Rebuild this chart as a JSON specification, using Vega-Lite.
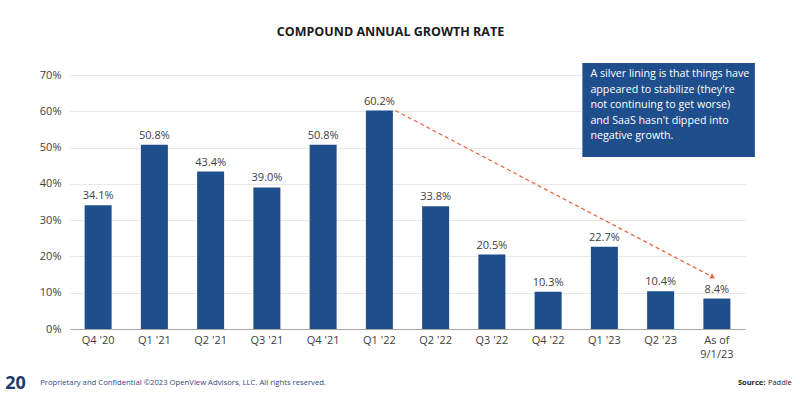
{
  "$schema": "https://vega.github.io/schema/vega-lite/v6.json",
  "width": 675,
  "height": 254,
  "autosize": "none",
  "padding": {"left": 70, "top": 75, "right": 55, "bottom": 65},
  "background": "white",
  "title": {"text": "COMPOUND ANNUAL GROWTH RATE", "font": "Open Sans", "fontSize": 12.5, "fontWeight": "bold", "color": "#1a1a1a", "anchor": "middle", "dx": -17, "offset": 25},
  "config": {"view": {"stroke": null}, "font": "Open Sans",
    "axisX": {"title": null, "labelAngle": 0, "ticks": false, "grid": false, "domainColor": "#a6a6a6", "domainWidth": 1.2, "labelPadding": 5, "labelFontSize": 11, "labelColor": "#404040", "labelFont": "Open Sans", "labelLineHeight": 14, "labelExpr": "datum.value == 'As of 9/1/23' ? ['As of', '9/1/23'] : datum.value"},
    "axisY": {"title": null, "domain": false, "ticks": false, "grid": true, "gridColor": "#e8e8e8", "tickCount": 7, "labelPadding": 9, "labelFontSize": 11, "labelColor": "#404040", "labelFont": "Open Sans", "labelExpr": "format(datum.value, '.0%')"}
  },
  "datasets": {"cagr": [
    {"quarter": "Q4 '20", "cagr": 0.341},
    {"quarter": "Q1 '21", "cagr": 0.508},
    {"quarter": "Q2 '21", "cagr": 0.434},
    {"quarter": "Q3 '21", "cagr": 0.390},
    {"quarter": "Q4 '21", "cagr": 0.508},
    {"quarter": "Q1 '22", "cagr": 0.602},
    {"quarter": "Q2 '22", "cagr": 0.338},
    {"quarter": "Q3 '22", "cagr": 0.205},
    {"quarter": "Q4 '22", "cagr": 0.103},
    {"quarter": "Q1 '23", "cagr": 0.227},
    {"quarter": "Q2 '23", "cagr": 0.104},
    {"quarter": "As of 9/1/23", "cagr": 0.084}
  ]},
  "layer": [
    {"data": {"name": "cagr"},
     "mark": {"type": "bar", "color": "#1F4E8C"},
     "encoding": {
      "x": {"field": "quarter", "type": "nominal", "title": null,
        "scale": {"domain": ["Q4 '20","Q1 '21","Q2 '21","Q3 '21","Q4 '21","Q1 '22","Q2 '22","Q3 '22","Q4 '22","Q1 '23","Q2 '23","As of 9/1/23"], "paddingInner": 0.52, "paddingOuter": 0.26}},
      "y": {"field": "cagr", "type": "quantitative", "title": null,
        "scale": {"domain": [0, 0.7], "nice": false}}
     }},
    {"data": {"name": "cagr"},
     "mark": {"type": "text", "baseline": "bottom", "dy": -4, "fontSize": 11, "color": "#404040", "font": "Open Sans"},
     "encoding": {"x": {"field": "quarter", "type": "nominal", "title": null}, "y": {"field": "cagr", "type": "quantitative", "title": null}, "text": {"field": "cagr", "format": ".1%"}}},
    {"data": {"values": [{"a": 1}]},
     "mark": {"type": "rule", "color": "#E8603C", "strokeDash": [4, 3], "strokeWidth": 1.2, "xOffset": 16, "x2Offset": -4},
     "encoding": {"x": {"datum": "Q1 '22", "type": "nominal", "title": null}, "x2": {"datum": "As of 9/1/23"}, "y": {"datum": 0.602, "type": "quantitative", "title": null}, "y2": {"datum": 0.143}}},
    {"data": {"values": [{"a": 1}]},
     "mark": {"type": "point", "shape": "triangle-right", "filled": true, "color": "#E8603C", "opacity": 1, "size": 30, "angle": 27, "xOffset": -4},
     "encoding": {"x": {"datum": "As of 9/1/23", "type": "nominal", "title": null}, "y": {"datum": 0.143, "type": "quantitative", "title": null}}},
    {"data": {"values": [{"a": 1}]},
     "mark": {"type": "rect", "color": "#1F4E8C", "xOffset": -22, "x2Offset": 38},
     "encoding": {"x": {"datum": "Q1 '23", "type": "nominal", "bandPosition": 0.5, "title": null}, "x2": {"datum": "As of 9/1/23", "bandPosition": 0.5}, "y": {"datum": 0.733, "type": "quantitative", "title": null}, "y2": {"datum": 0.474}}},
    {"data": {"values": [{"a": 1}]},
     "mark": {"type": "text", "align": "left", "baseline": "top", "color": "white", "fontSize": 10.7, "lineHeight": 15.5, "font": "Open Sans", "dx": -14,
       "text": ["A silver lining is that things have", "appeared to stabilize (they're", "not continuing to get worse)", "and SaaS hasn't dipped into", "negative growth."]},
     "encoding": {"x": {"datum": "Q1 '23", "type": "nominal", "title": null}, "y": {"datum": 0.716, "type": "quantitative", "title": null}}},
    {"data": {"values": [{"a": 1}]},
     "mark": {"type": "text", "align": "left", "baseline": "middle", "color": "#1F3A6E", "fontSize": 18, "fontWeight": "bold", "font": "Open Sans", "dx": -93, "text": "20"},
     "encoding": {"x": {"datum": "Q4 '20", "type": "nominal", "title": null}, "y": {"datum": -0.152, "type": "quantitative", "title": null}}},
    {"data": {"values": [{"a": 1}]},
     "mark": {"type": "text", "align": "left", "baseline": "middle", "color": "#2F4A7A", "fontSize": 7.7, "font": "Open Sans", "dx": -58, "text": "Proprietary and Confidential ©2023 OpenView Advisors, LLC. All rights reserved."},
     "encoding": {"x": {"datum": "Q4 '20", "type": "nominal", "title": null}, "y": {"datum": -0.149, "type": "quantitative", "title": null}}},
    {"data": {"values": [{"a": 1}]},
     "mark": {"type": "text", "align": "left", "baseline": "middle", "color": "#222222", "fontSize": 7.5, "fontWeight": "bold", "font": "Open Sans", "dx": 21, "text": "Source:"},
     "encoding": {"x": {"datum": "As of 9/1/23", "type": "nominal", "title": null}, "y": {"datum": -0.149, "type": "quantitative", "title": null}}},
    {"data": {"values": [{"a": 1}]},
     "mark": {"type": "text", "align": "left", "baseline": "middle", "color": "#222222", "fontSize": 7.5, "font": "Open Sans", "dx": 51, "text": "Paddle"},
     "encoding": {"x": {"datum": "As of 9/1/23", "type": "nominal", "title": null}, "y": {"datum": -0.149, "type": "quantitative", "title": null}}}
  ]
}
